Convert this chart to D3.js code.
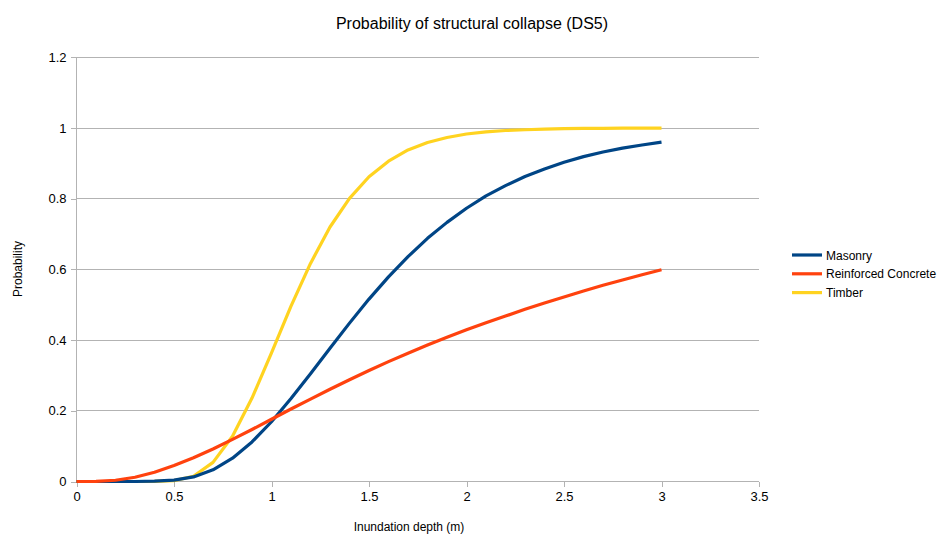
<!DOCTYPE html>
<html><head><meta charset="utf-8">
<script src="https://cdn.jsdelivr.net/npm/d3@7"></script>
<style>body{margin:0;background:#fff;}svg{display:block;font-family:"Liberation Sans",Arial,sans-serif;}</style>
</head><body>
<svg id="c" width="948" height="549"></svg>
<script>
const depths = [0,0.1,0.2,0.3,0.4,0.5,0.6,0.7,0.8,0.9,1.0,1.1,1.2,1.3,1.4,1.5,1.6,1.7,1.8,1.9,2.0,2.1,2.2,2.3,2.4,2.5,2.6,2.7,2.8,2.9,3.0];
const masonry = [0,0,0,0,0.001,0.004,0.013,0.033,0.066,0.112,0.169,0.235,0.305,0.377,0.448,0.516,0.579,0.636,0.688,0.733,0.773,0.808,0.837,0.863,0.884,0.903,0.919,0.932,0.943,0.952,0.960];
const concrete = [0,0.0003,0.0035,0.012,0.026,0.045,0.067,0.092,0.119,0.147,0.176,0.205,0.233,0.261,0.288,0.314,0.339,0.363,0.386,0.408,0.429,0.449,0.468,0.487,0.505,0.522,0.539,0.555,0.570,0.585,0.599];
const timber = [0,0,0,0,0.0002,0.0025,0.015,0.054,0.128,0.236,0.364,0.496,0.617,0.72,0.801,0.862,0.906,0.938,0.959,0.973,0.983,0.989,0.993,0.995,0.997,0.998,0.999,0.999,0.9995,0.9997,0.9998];
const seriesNames = ["Masonry","Reinforced Concrete","Timber"];
const seriesColors = ["#004586","#ff420e","#ffd320"];
const xTicks = [0,0.5,1,1.5,2,2.5,3,3.5];
const yTicks = [0,0.2,0.4,0.6,0.8,1,1.2];
const title = "Probability of structural collapse (DS5)";
const xTitle = "Inundation depth (m)";
const yTitle = "Probability";

const svg = d3.select("#c");
const L = 76.5, R = 759, T = 57.3, B = 481.5;
const x = d3.scaleLinear().domain([0,3.5]).range([L,R]);
const y = d3.scaleLinear().domain([0,1.2]).range([B,T]);
const grid = "#b3b3b3";

// gridlines
svg.append("g").selectAll("line").data(yTicks.filter(d=>d>0)).join("line")
  .attr("x1",L).attr("x2",R).attr("y1",d=>y(d)).attr("y2",d=>y(d))
  .attr("stroke",grid).attr("stroke-width",1).attr("shape-rendering","crispEdges");

// axes
const xAxis = d3.axisBottom(x).tickValues(xTicks).tickFormat(d3.format("")).tickSize(5).tickPadding(5);
const yAxis = d3.axisLeft(y).tickValues(yTicks).tickFormat(d3.format("")).tickSize(6).tickPadding(4);
const gx = svg.append("g").attr("transform",`translate(0,${B})`).call(xAxis);
const gy = svg.append("g").attr("transform",`translate(${L},0)`).call(yAxis);
[gx,gy].forEach(g=>{
  g.selectAll("path,line").attr("stroke",grid).attr("shape-rendering","crispEdges");
  g.selectAll("text").attr("fill","#000").style("font-size","13px").style("font-family","'Liberation Sans',Arial,sans-serif");
});
gx.select(".domain").attr("d",`M${L},0H${R}`);
gy.select(".domain").attr("d",`M0,${B}V${T}`);

// lines: drawn timber first, then masonry, then concrete (as in the reference stacking)
const series = [
  {v: masonry, c: seriesColors[0]},
  {v: concrete, c: seriesColors[1]},
  {v: timber, c: seriesColors[2]}
];
const drawOrder = [series[2], series[0], series[1]];
const line = d3.line().x((d,i)=>x(depths[i])).y(d=>y(d));
svg.append("g").selectAll("path").data(drawOrder).join("path")
  .attr("d",d=>line(d.v)).attr("fill","none")
  .attr("stroke",d=>d.c).attr("stroke-width",3.2)
  .attr("stroke-linejoin","round").attr("stroke-linecap","butt");

// title
svg.append("text").attr("x",472).attr("y",29).attr("text-anchor","middle")
  .style("font-size","16px").attr("fill","#000").text(title);
svg.append("text").attr("x",409).attr("y",531).attr("text-anchor","middle")
  .style("font-size","12px").attr("fill","#000").text(xTitle);
svg.append("text").attr("transform","translate(22,269) rotate(-90)").attr("text-anchor","middle")
  .style("font-size","12px").attr("fill","#000").text(yTitle);

// legend
const lg = svg.append("g").selectAll("g").data(seriesNames).join("g")
  .attr("transform",(d,i)=>`translate(792,${255+i*18.8})`);
lg.append("line").attr("x1",0).attr("x2",30).attr("y1",0).attr("y2",0)
  .attr("stroke",(d,i)=>seriesColors[i]).attr("stroke-width",3.2);
lg.append("text").attr("x",34).attr("y",4.5).style("font-size","12px").attr("fill","#000").text(d=>d);
</script>
</body></html>
